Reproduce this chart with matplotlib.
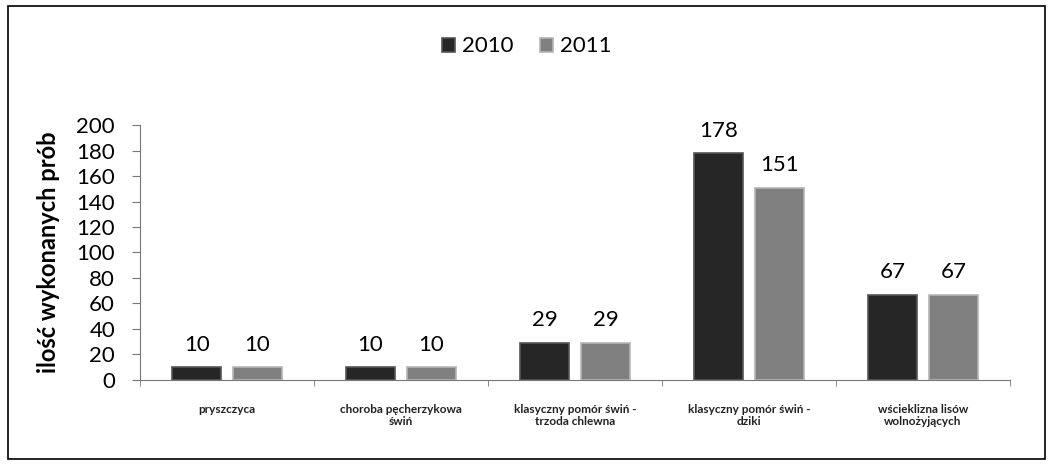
import numpy as np
import matplotlib.pyplot as plt
from matplotlib.patches import Rectangle

plt.rcParams['font.family'] = ['Lato', 'DejaVu Sans']

categories = ['pryszczyca', 'choroba pęcherzykowa\nświń', 'klasyczny pomór świń -\ntrzoda chlewna',
              'klasyczny pomór świń -\ndziki', 'wścieklizna lisów\nwolnożyjących']
v2010 = [10, 10, 29, 178, 67]
v2011 = [10, 10, 29, 151, 67]
years = ['2010', '2011']

fig = plt.figure(figsize=(10.53, 4.65), dpi=100)
ax = fig.add_axes([0.133, 0.183, 0.826, 0.548])

x = np.arange(len(categories))
w = 0.28
gap = 0.035
b1 = ax.bar(x - w/2 - gap, v2010, w, color='#262626', edgecolor='#555555', linewidth=1.2, label=years[0])
b2 = ax.bar(x + w/2 + gap, v2011, w, color='#808080', edgecolor='#b5b5b5', linewidth=1.2, label=years[1])

for bars in (b1, b2):
    for r in bars:
        ax.annotate(str(int(r.get_height())), (r.get_x() + r.get_width()/2, r.get_height()),
                    xytext=(0, 9), textcoords='offset points', ha='center', va='bottom', fontsize=16)

ax.set_xlim(-0.5, len(categories) - 0.5)
ax.set_ylim(0, 200)
ax.set_yticks(np.arange(0, 201, 20))
ax.tick_params(axis='y', labelsize=16, length=6, color='#777777', pad=12)
ax.set_xticks(x)
ax.set_xticklabels(categories, fontsize=8.5, fontweight='bold', color='#222222')
ax.set_xticks(np.arange(-0.5, len(categories), 1), minor=True)
ax.tick_params(axis='x', which='major', length=0, pad=17)
ax.tick_params(axis='x', which='minor', length=4, color='#777777')
for s in ['top', 'right']:
    ax.spines[s].set_visible(False)
ax.spines['left'].set_color('#777777')
ax.spines['bottom'].set_color('#777777')

ax.set_ylabel('ilość wykonanych prób', fontsize=17, fontweight='bold', labelpad=12)

fig.legend(handles=[b1, b2], labels=years, loc='center', bbox_to_anchor=(0.5, 0.9), ncol=2,
           frameon=False, fontsize=16, handlelength=0.6, handleheight=0.6, columnspacing=1.2, handletextpad=0.3)

fig.patches.append(Rectangle((0.008, 0.012), 0.984, 0.976, transform=fig.transFigure,
                             fill=False, edgecolor='black', linewidth=1.2))

fig.savefig('out.png', dpi=100)
